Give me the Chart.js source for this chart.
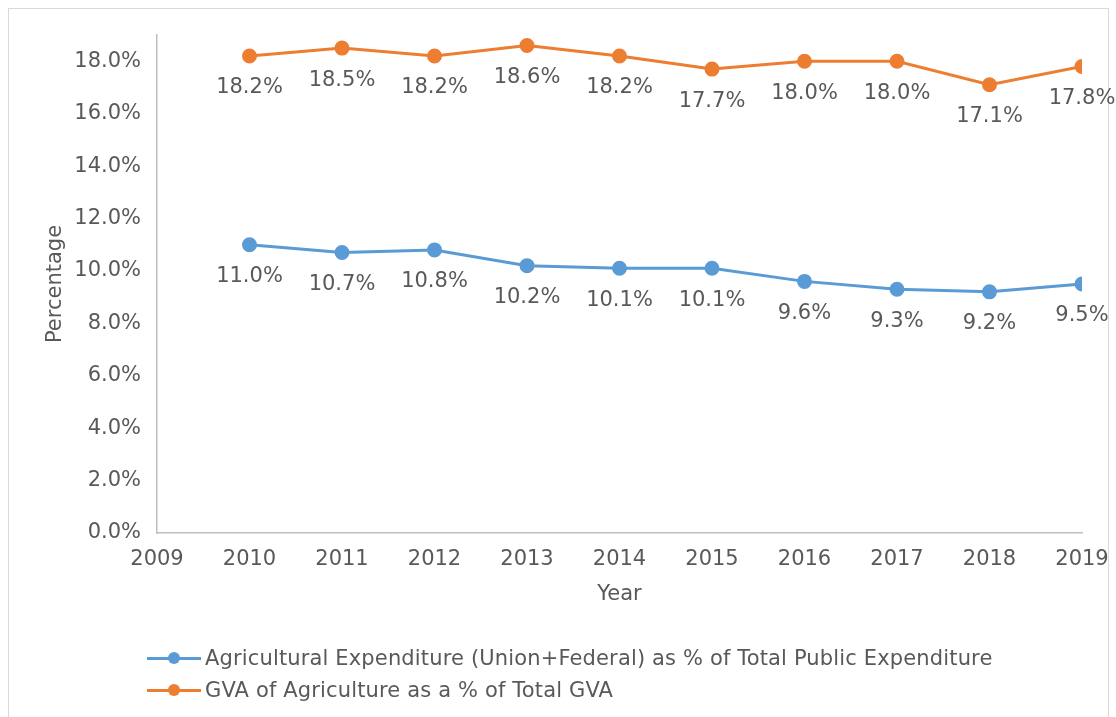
<!DOCTYPE html>
<html>
<head>
<meta charset="utf-8">
<script src="https://cdn.jsdelivr.net/npm/chart.js@4/dist/chart.umd.min.js"></script>
<style>
    body { margin: 0; background: #fff; font-family: "DejaVu Sans", sans-serif; }
    #wrap { position: relative; width: 1116px; height: 717px; overflow: hidden; }
    #frame { position: absolute; left: 8px; top: 8px; width: 1101px; height: 720px; border: 1px solid #d9d9d9; box-sizing: border-box; }
    #chart { position: absolute; left: 0; top: 0; }
    #legend { position: absolute; left: 147px; top: 642px; color: #595959; font-size: 21px; letter-spacing: 0.15px; }
    #legend .row { height: 32px; display: flex; align-items: center; }
    #legend .key { position: relative; width: 54px; height: 20px; margin-right: 4px; }
    #legend .key .ln { position: absolute; left: 0; right: 0; top: 9px; height: 3px; }
    #legend .key .dot { position: absolute; left: 21px; top: 4px; width: 12px; height: 12px; border-radius: 50%; }
</style>
</head>
<body>
<div id="wrap">
    <div id="frame"></div>
    <canvas id="chart" width="1116" height="717"></canvas>
    <div id="legend"></div>
</div>
<script>
var years = [2010, 2011, 2012, 2013, 2014, 2015, 2016, 2017, 2018, 2019];
var agriExpenditure = [11.0, 10.7, 10.8, 10.2, 10.1, 10.1, 9.6, 9.3, 9.2, 9.5];
var agriGva = [18.2, 18.5, 18.2, 18.6, 18.2, 17.7, 18.0, 18.0, 17.1, 17.8];
var seriesNames = [
    "Agricultural Expenditure (Union+Federal) as % of Total Public Expenditure",
    "GVA of Agriculture as a % of Total GVA"
];
var seriesColors = ["#5b9bd5", "#ed7d31"];

var textColor = "#595959";
var fontFamily = "'DejaVu Sans', sans-serif";

function toPoints(values) {
    return years.map(function(y, i) { return {x: y, y: values[i]}; });
}

// value labels under each point
var pointLabels = {
    id: 'pointLabels',
    afterDatasetsDraw: function(chart) {
        var ctx = chart.ctx;
        ctx.save();
        ctx.font = "21px " + fontFamily;
        ctx.fillStyle = textColor;
        ctx.textAlign = "center";
        ctx.textBaseline = "middle";
        chart.data.datasets.forEach(function(ds, i) {
            chart.getDatasetMeta(i).data.forEach(function(pt, j) {
                ctx.fillText(ds.data[j].y.toFixed(1) + "%", pt.x, pt.y + 32);
            });
        });
        ctx.restore();
    }
};

var datasets = [agriExpenditure, agriGva].map(function(values, i) {
    return {
        label: seriesNames[i],
        data: toPoints(values),
        borderColor: seriesColors[i],
        backgroundColor: seriesColors[i],
        borderWidth: 3,
        pointRadius: 6,
        pointHoverRadius: 6,
        tension: 0
    };
});

new Chart(document.getElementById("chart"), {
    type: 'line',
    data: { datasets: datasets },
    plugins: [pointLabels],
    options: {
        responsive: false,
        animation: false,
        layout: { autoPadding: false, padding: { left: 0, top: 35, right: 34, bottom: 104 } },
        plugins: { legend: { display: false }, tooltip: { enabled: false } },
        scales: {
            x: {
                type: 'linear',
                min: 2009,
                max: 2019,
                grid: { display: false, drawTicks: false },
                border: { color: "#bfbfbf", width: 1.5 },
                ticks: {
                    stepSize: 1,
                    padding: 14,
                    color: textColor,
                    font: { family: fontFamily, size: 21 },
                    maxRotation: 0,
                    callback: function(v) { return String(v); }
                },
                title: {
                    display: true,
                    text: "Year",
                    color: textColor,
                    font: { family: fontFamily, size: 21 },
                    padding: { top: 0, bottom: 6 }
                },
                afterFit: function(scale) {
                    scale.height = 80;
                    scale.paddingLeft = 0;
                    scale.paddingRight = 0;
                }
            },
            y: {
                min: 0,
                max: 19,
                grid: { display: false, drawTicks: false },
                border: { color: "#bfbfbf", width: 1.5 },
                ticks: {
                    stepSize: 2,
                    padding: 16,
                    color: textColor,
                    font: { family: fontFamily, size: 21 },
                    callback: function(v) { return v.toFixed(1) + "%"; }
                },
                afterBuildTicks: function(scale) {
                    scale.ticks = scale.ticks.filter(function(t) { return t.value % 2 === 0; });
                },
                title: {
                    display: true,
                    text: "Percentage",
                    color: textColor,
                    font: { family: fontFamily, size: 21 },
                    padding: { top: 43, bottom: 0 }
                },
                afterFit: function(scale) { scale.width = 157; }
            }
        }
    }
});

// legend rows, left aligned
var legend = document.getElementById("legend");
seriesNames.forEach(function(name, i) {
    var row = document.createElement("div");
    row.className = "row";
    row.innerHTML = '<span class="key"><span class="ln" style="background:' + seriesColors[i] + '"></span>' +
        '<span class="dot" style="background:' + seriesColors[i] + '"></span></span><span>' + name + '</span>';
    legend.appendChild(row);
});
</script>
</body>
</html>
